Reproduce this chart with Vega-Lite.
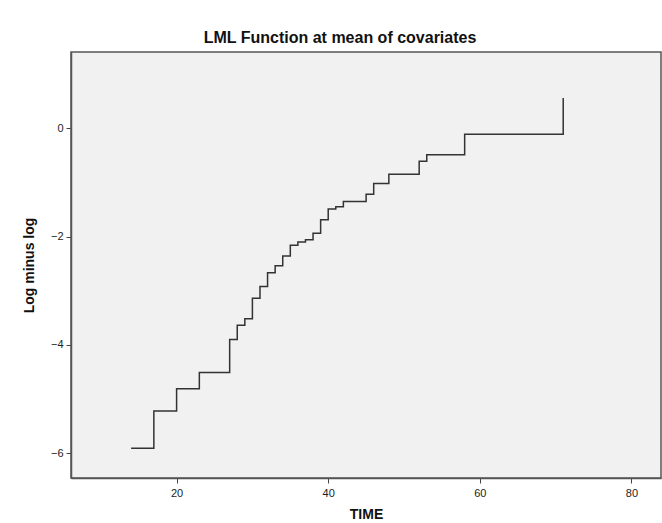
{
  "$schema": "https://vega.github.io/schema/vega-lite/v6.json",
  "autosize": "none",
  "width": 590,
  "height": 426,
  "padding": {"left": 71, "top": 52, "right": 1, "bottom": 45},
  "background": "#ffffff",
  "title": {
    "text": "LML Function at mean of covariates",
    "font": "Liberation Sans",
    "fontSize": 16,
    "fontWeight": "bold",
    "color": "#111111",
    "anchor": "middle",
    "dx": -26,
    "offset": 6
  },
  "config": {
    "view": {"fill": "#f0f1f0", "stroke": "#555555", "strokeWidth": 1.5},
    "axis": {
      "grid": false,
      "domainColor": "#555555",
      "domainWidth": 1.5,
      "tickColor": "#444444",
      "tickSize": 5,
      "labelFont": "Liberation Sans",
      "labelFontSize": 11,
      "labelColor": "#222222",
      "titleFont": "Liberation Sans",
      "titleFontSize": 14,
      "titleFontWeight": "bold",
      "titleColor": "#111111"
    }
  },
  "data": {
    "values": [
      {"TIME": 14, "LML": -5.91},
      {"TIME": 17, "LML": -5.22},
      {"TIME": 20, "LML": -4.81},
      {"TIME": 23, "LML": -4.51},
      {"TIME": 27, "LML": -3.90},
      {"TIME": 28, "LML": -3.64},
      {"TIME": 29, "LML": -3.52},
      {"TIME": 30, "LML": -3.14},
      {"TIME": 31, "LML": -2.92},
      {"TIME": 32, "LML": -2.67},
      {"TIME": 33, "LML": -2.54},
      {"TIME": 34, "LML": -2.36},
      {"TIME": 35, "LML": -2.16},
      {"TIME": 36, "LML": -2.10},
      {"TIME": 37, "LML": -2.06},
      {"TIME": 38, "LML": -1.94},
      {"TIME": 39, "LML": -1.69},
      {"TIME": 40, "LML": -1.49},
      {"TIME": 41, "LML": -1.45},
      {"TIME": 42, "LML": -1.35},
      {"TIME": 45, "LML": -1.22},
      {"TIME": 46, "LML": -1.02},
      {"TIME": 48, "LML": -0.85},
      {"TIME": 52, "LML": -0.61},
      {"TIME": 53, "LML": -0.49},
      {"TIME": 58, "LML": -0.11},
      {"TIME": 71, "LML": 0.56}
    ]
  },
  "mark": {"type": "line", "interpolate": "step-after", "color": "#333333", "strokeWidth": 1.5},
  "encoding": {
    "x": {
      "field": "TIME",
      "type": "quantitative",
      "scale": {"domain": [6.07, 83.9], "nice": false, "zero": false},
      "axis": {"values": [20, 40, 60, 80], "title": "TIME", "titlePadding": 9, "labelPadding": 4}
    },
    "y": {
      "field": "LML",
      "type": "quantitative",
      "scale": {"domain": [-6.46, 1.41], "nice": false, "zero": false},
      "axis": {"values": [0, -2, -4, -6], "title": "Log minus log", "titlePadding": 14, "labelPadding": 3}
    }
  }
}
